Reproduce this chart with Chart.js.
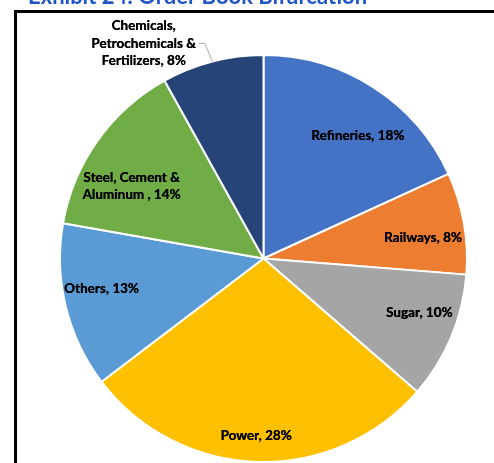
<!DOCTYPE html>
<html lang="en">
<head>
    <meta charset="UTF-8">
    <title>Order Book Bifurcation</title>
    <script src="https://cdn.jsdelivr.net/npm/chart.js"></script>
    <style>
        html, body { margin: 0; padding: 0; background: #fff; overflow: hidden; }
        #wrap { position: relative; width: 494px; height: 463px; }
        #frame { position: absolute; left: 14px; top: 10px; width: 560px; height: 560px; border: 3px solid #000; }
        #pieChart { position: absolute; left: 0; top: 0; }
    </style>
</head>
<body>
<div id="wrap">
    <div id="frame"></div>
    <canvas id="pieChart" width="494" height="463"></canvas>
</div>
<script>
    const title = 'Exhibit 24: Order Book Bifurcation';
    // segment names (split into display lines) and share of order book, %
    const sectors = [
        ['Refineries, 18%'],
        ['Railways, 8%'],
        ['Sugar, 10%'],
        ['Power, 28%'],
        ['Others, 13%'],
        ['Steel, Cement &', 'Aluminum , 14%'],
        ['Chemicals,', 'Petrochemicals &', 'Fertilizers, 8%']
    ];
    const shares = [18, 8, 10, 28, 13, 14, 8];
    const colors = ['#4472C4', '#ED7D31', '#A5A5A5', '#FFC000', '#5B9BD5', '#70AD47', '#264478'];

    // where each label sits: fraction of radius, angle nudge in degrees
    const labelPos = [
        { r: 0.76, da: 4.8 },
        { r: 0.79, da: 2.5 },
        { r: 0.81, da: -3.6 },
        { r: 0.87, da: 0.6 },
        { r: 0.81, da: 3.1 },
        { r: 0.74, da: -6.7 },
        { r: 1.21, da: -14.6, leader: true }
    ];

    const labelsPlugin = {
        id: 'sliceLabels',
        afterDatasetsDraw(chart) {
            const ctx = chart.ctx;
            const arcs = chart.getDatasetMeta(0).data;
            ctx.save();
            ctx.font = 'bold 13.5px Lato';
            ctx.fillStyle = '#000';
            ctx.textAlign = 'center';
            ctx.textBaseline = 'middle';
            arcs.forEach((arc, i) => {
                const p = labelPos[i];
                const mid = (arc.startAngle + arc.endAngle) / 2;
                const a = mid + p.da * Math.PI / 180;
                const cx = arc.x + Math.cos(a) * arc.outerRadius * p.r;
                const cy = arc.y + Math.sin(a) * arc.outerRadius * p.r;
                const lines = sectors[i];
                const lh = 17.6;
                const y0 = cy - (lines.length - 1) * lh / 2;
                lines.forEach((t, k) => {
                    ctx.fillText(t, cx, y0 + k * lh);
                    ctx.fillText(t, cx + 0.3, y0 + k * lh);
                });
                if (p.leader) {
                    const w = ctx.measureText(lines[1]).width;
                    const sx = cx + w / 2 + 3;
                    const sy = y0 + lh;
                    const ex = arc.x + Math.cos(mid) * arc.outerRadius;
                    const ey = arc.y + Math.sin(mid) * arc.outerRadius;
                    ctx.strokeStyle = '#A6A6A6';
                    ctx.lineWidth = 1;
                    ctx.beginPath();
                    ctx.moveTo(sx, sy);
                    ctx.lineTo(sx + 6, sy);
                    ctx.lineTo(ex, ey);
                    ctx.stroke();
                }
            });
            // heading, mostly cut off above the frame
            ctx.font = 'bold 22px Lato';
            ctx.fillStyle = '#1F55C4';
            ctx.textAlign = 'left';
            ctx.textBaseline = 'alphabetic';
            ctx.fillText(title, 28, 3.5);
            ctx.restore();
        }
    };

    const ctx = document.getElementById('pieChart').getContext('2d');
    new Chart(ctx, {
        type: 'pie',
        data: {
            labels: sectors.map(s => s.join(' ')),
            datasets: [{
                data: shares,
                backgroundColor: colors,
                borderColor: '#fff',
                borderWidth: 2
            }]
        },
        options: {
            responsive: false,
            animation: false,
            layout: { padding: { top: 54, bottom: 0, left: 59, right: 26 } },
            plugins: {
                legend: { display: false },
                tooltip: { enabled: false }
            }
        },
        plugins: [labelsPlugin]
    });
</script>
</body>
</html>
